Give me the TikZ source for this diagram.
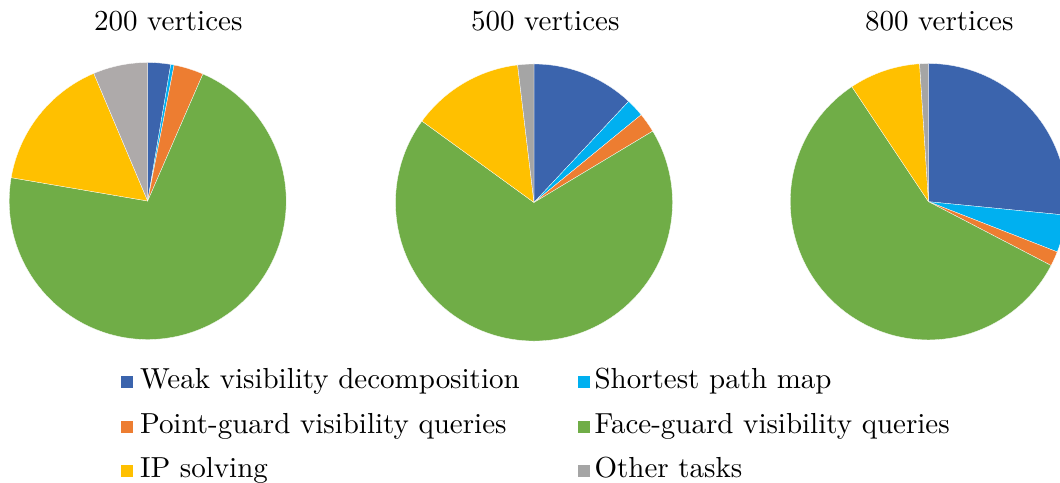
\documentclass[tikz,border=0pt]{standalone}
\definecolor{cblue}{HTML}{3B64AD}
\definecolor{ccyan}{HTML}{00B0F0}
\definecolor{corange}{HTML}{ED7D31}
\definecolor{cgreen}{HTML}{70AD47}
\definecolor{cyellow}{HTML}{FFC000}
\definecolor{cgray}{HTML}{A5A5A5}
\definecolor{cgrayb}{HTML}{AEAAAA}
\newcommand{\slice}[5]{% center, radius, start, end, color
  \fill[#5, draw=white, line width=0.1pt] (#1) -- ++(#3:#2) arc[start angle=#3, end angle=#4, radius=#2] -- cycle;}
\tikzset{
  title/.style={anchor=base west, inner sep=0pt},
  legtext/.style={anchor=base west, inner sep=0pt},
  legbox/.style={minimum width=12*0.345pt, minimum height=12*0.345pt, inner sep=0pt, anchor=south west}
}
\begin{document}
\begin{tikzpicture}[x=0.345pt,y=0.345pt]
\useasboundingbox (0,0) rectangle (1060,-483);
\clip (0,0) rectangle (1060,-483);
% titles
\node[title] (t1) at (93.5,-31) {200 vertices};
\node[title] (t2) at (470.5,-31) {500 vertices};
\node[title] (t3) at (864.5,-31) {800 vertices};
% pie 1
\coordinate (p1) at (147.7,-201);
\slice{p1}{138.5}{90}{80.4}{cblue}
\slice{p1}{138.5}{80.4}{79.0}{ccyan}
\slice{p1}{138.5}{79.0}{66.5}{corange}
\slice{p1}{138.5}{66.5}{-189.7}{cgreen}
\slice{p1}{138.5}{170.3}{112.9}{cyellow}
\slice{p1}{138.5}{112.9}{90}{cgrayb}
% pie 2
\coordinate (p2) at (534,-202.5);
\slice{p2}{138.5}{90}{46.9}{cblue}
\slice{p2}{138.5}{46.9}{39.3}{ccyan}
\slice{p2}{138.5}{39.3}{31.0}{corange}
\slice{p2}{138.5}{31.0}{-216.0}{cgreen}
\slice{p2}{138.5}{144.0}{96.8}{cyellow}
\slice{p2}{138.5}{96.8}{90}{cgray}
% pie 3
\coordinate (p3) at (928.5,-201.7);
\slice{p3}{138.2}{90}{-5.6}{cblue}
\slice{p3}{138.2}{-5.6}{-21.3}{ccyan}
\slice{p3}{138.2}{-21.3}{-27.5}{corange}
\slice{p3}{138.2}{-27.5}{-236.3}{cgreen}
\slice{p3}{138.2}{123.7}{93.7}{cyellow}
\slice{p3}{138.2}{93.7}{90}{cgray}
% legend
\node[legbox, fill=cblue]   (b1) at (120.7,-388.7) {};
\node[legtext] (l1) at (139.5,-389) {Weak visibility decomposition};
\node[legbox, fill=corange] (b3) at (120.7,-433.2) {};
\node[legtext] (l3) at (139.5,-433.5) {Point-guard visibility queries};
\node[legbox, fill=cyellow] (b5) at (120.7,-477.5) {};
\node[legtext] (l5) at (139.5,-478) {IP solving};
\node[legbox, fill=ccyan]   (b2) at (577,-388.7) {};
\node[legtext] (l2) at (594,-389) {Shortest path map};
\node[legbox, fill=cgreen]  (b4) at (577,-433.2) {};
\node[legtext] (l4) at (594,-433.5) {Face-guard visibility queries};
\node[legbox, fill=cgray]   (b6) at (577,-477.5) {};
\node[legtext] (l6) at (594,-478) {Other tasks};
\end{tikzpicture}
\end{document}
